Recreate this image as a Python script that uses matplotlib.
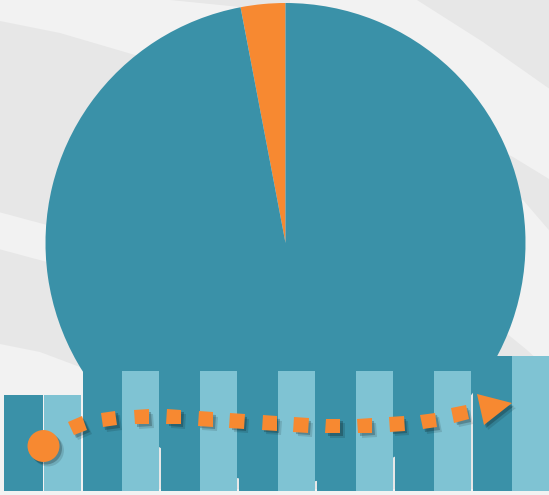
import numpy as np
import matplotlib
matplotlib.use('Agg')
import matplotlib.pyplot as plt
import matplotlib.patheffects as pe
from matplotlib.markers import MarkerStyle
from matplotlib.transforms import Affine2D

# pie data
pie_labels = ['share', 'rest']
pie_values = [3, 97]

# grouped bars
groups = ['1', '2', '3', '4', '5', '6', '7']
dark_vals = [32, 40, 40, 40, 40, 40, 45]
light_vals = [32, 40, 40, 40, 40, 40, 45]

# trend arrow (same units as the bars)
trend_x = [0.0, 0.44, 0.84, 1.26, 1.67, 2.08, 2.48, 2.90, 3.30, 3.71, 4.12, 4.53, 4.94, 5.34, 5.80]
trend_y = [15.0, 21.7, 24.0, 24.7, 24.7, 24.0, 23.3, 22.7, 22.0, 21.7, 21.7, 22.3, 23.3, 25.7, 28.2]

DARK = '#3A91A8'
LIGHT = '#7FC3D3'
ORANGE = '#F78931'
BG = '#E7E7E7'
BG_LIGHT = '#F2F2F2'

W, H = 549, 495
fig = plt.figure(figsize=(W/100, H/100), dpi=100)

# background with soft swooshes (pixel coords)
bg = fig.add_axes([0, 0, 1, 1])
bg.set_xlim(0, W)
bg.set_ylim(H, 0)
bg.axis('off')
bg.add_patch(plt.Rectangle((0, 0), W, H, color=BG, zorder=0))
bands = [
    [(-5, -5), (120, -5), (250, 8), (250, 75), (200, 62), (135, 55), (60, 33), (-5, 20)],
    [(-5, 211), (47, 225), (120, 250), (120, 285), (47, 262), (-5, 248)],
    [(-5, 343), (40, 352), (80, 367), (140, 392), (140, 500), (-5, 500)],
    [(290, -5), (410, -5), (417, 0), (483, 42), (554, 92), (554, 182), (513, 157),
     (470, 135), (380, 100), (290, 60)],
    [(470, 180), (523, 200), (554, 236), (554, 375), (527, 350), (500, 328), (460, 300)],
    [(-5, 489), (554, 489), (554, 500), (-5, 500)],
]
for b in bands:
    bg.add_patch(plt.Polygon(b, closed=True, color=BG_LIGHT, lw=0, zorder=1))

# pie
r = 240
cx, cy = 285.5, 243
axp = fig.add_axes([(cx - r)/W, (H - cy - r)/H, 2*r/W, 2*r/H])
axp.pie(pie_values, colors=[ORANGE, DARK], startangle=90, counterclock=True,
        radius=1, wedgeprops={'linewidth': 0})
axp.set_xlim(-1, 1)
axp.set_ylim(-1, 1)
axp.set_aspect('auto')
axp.axis('off')

# bars
ax = fig.add_axes([0, 0, 1, 1])
ax.patch.set_alpha(0)
ax.set_xlim(-43.5/78, (W - 43.5)/78)
ax.set_ylim(-4/3, -4/3 + H/3)
ax.axis('off')
x = np.arange(len(groups))
ax.bar(x - 0.25, dark_vals, width=0.5, color=DARK, linewidth=0, zorder=2)
ax.bar(x + 0.245, light_vals, width=0.47, color=LIGHT, linewidth=0, zorder=2)

# trend arrow
shadow = [pe.SimplePatchShadow(offset=(3.2, -3.2), shadow_rgbFace='k', alpha=0.12),
          pe.SimplePatchShadow(offset=(1.8, -1.8), shadow_rgbFace='k', alpha=0.22),
          pe.Normal()]
pts = ax.transData.transform(np.column_stack([trend_x, trend_y]))
ax.plot(trend_x[0], trend_y[0], 'o', ms=23, color=ORANGE, mew=0, zorder=5,
        path_effects=shadow)
for i in range(1, len(trend_x) - 1):
    d = pts[i + 1] - pts[i - 1]
    ang = np.degrees(np.arctan2(d[1], d[0]))
    m = MarkerStyle('s', transform=Affine2D().rotate_deg(ang))
    ax.plot(trend_x[i], trend_y[i], marker=m, ms=10.5, color=ORANGE, mew=0,
            zorder=5, path_effects=shadow)
d = pts[-1] - pts[-2]
ang = np.degrees(np.arctan2(d[1], d[0]))
m = MarkerStyle('>', transform=Affine2D().rotate_deg(ang))
ax.plot(trend_x[-1], trend_y[-1], marker=m, ms=23, color=ORANGE, mew=0,
        zorder=5, path_effects=shadow)

fig.savefig('out.png', dpi=100)
